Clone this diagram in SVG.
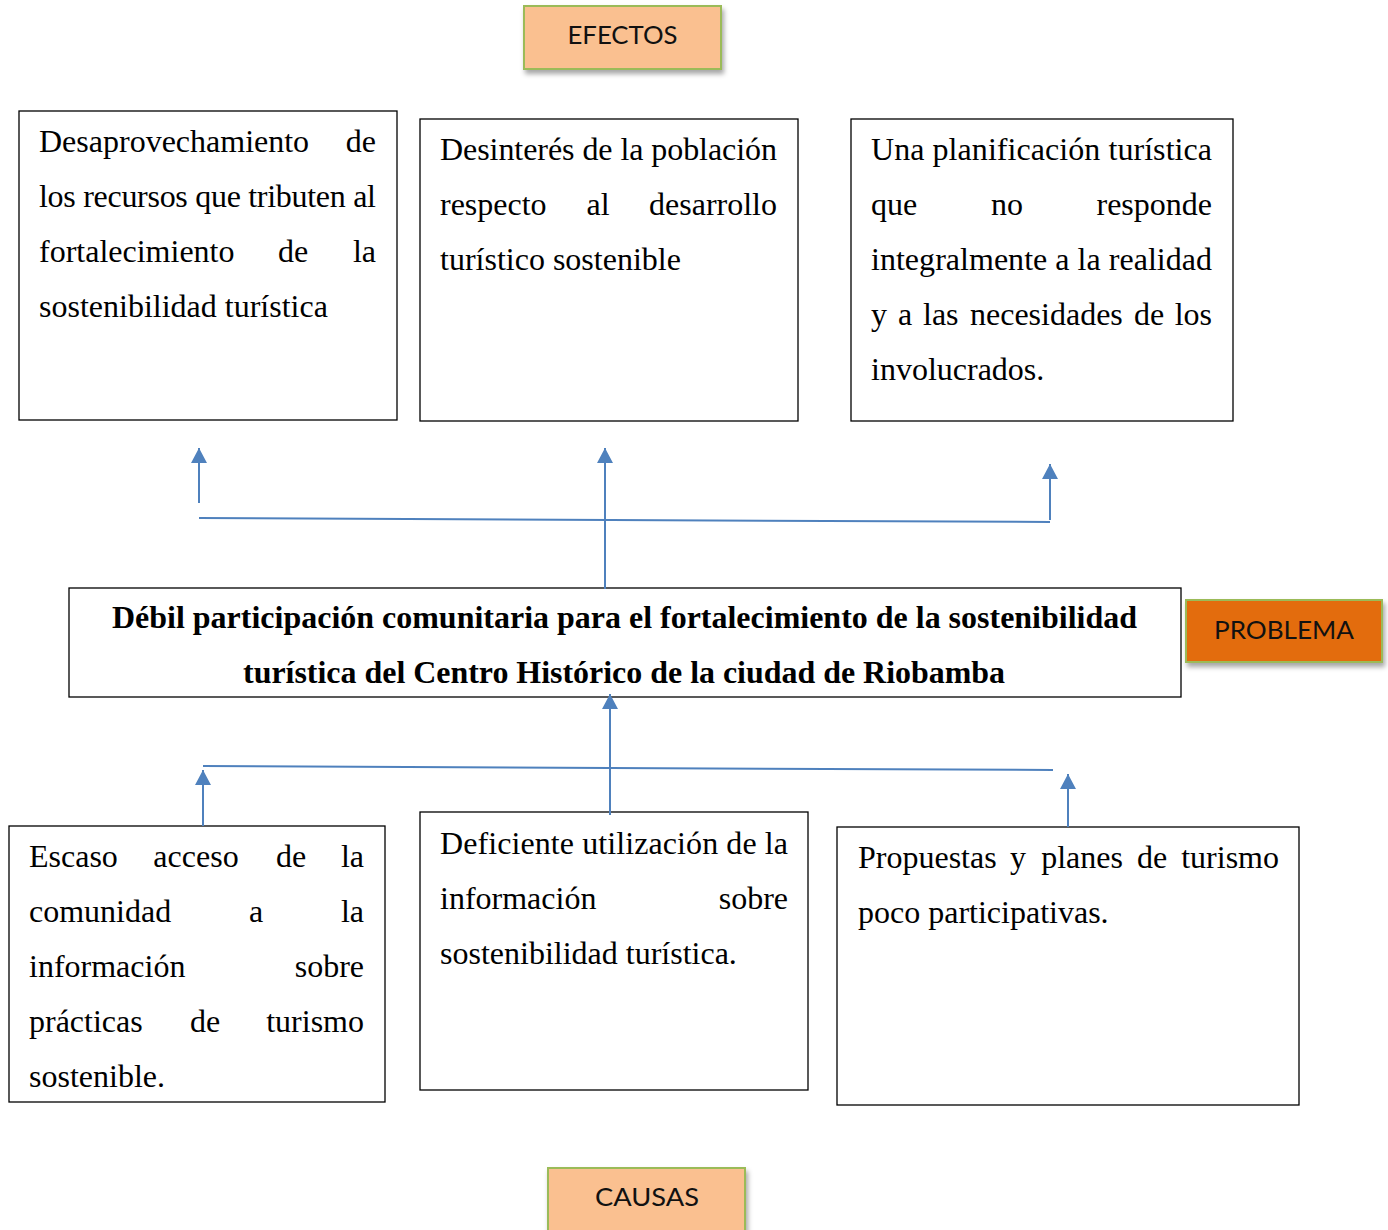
<svg xmlns="http://www.w3.org/2000/svg" width="1388" height="1230" viewBox="0 0 1388 1230">
<style>
.box{fill:#ffffff;stroke:#000000;stroke-width:1.3}
.t{font-family:"Liberation Serif","Times New Roman",serif;font-size:32px;fill:#000}
.e{text-anchor:end}
.m{text-anchor:middle}
.title{font-family:"Liberation Serif","Times New Roman",serif;font-size:32px;font-weight:bold;fill:#000;text-anchor:middle}
.lab{stroke:#9BBB59;stroke-width:2;filter:url(#sh)}
.peach{fill:#FAC090}
.orange{fill:#E36C0A}
.lt{font-family:"Lato","Open Sans",sans-serif;font-size:25px;fill:#111;text-anchor:middle}
.c{stroke:#4F81BD;stroke-width:2;fill:none}
.ca{stroke:#4F81BD;stroke-width:2;fill:none;marker-end:url(#ah)}
</style>
<defs>
<filter id="sh" x="-10%" y="-20%" width="130%" height="160%">
<feDropShadow dx="2" dy="4" stdDeviation="2.5" flood-color="#000" flood-opacity="0.35"/>
</filter>
<marker id="ah" viewBox="0 0 16 16" refX="15" refY="8" markerWidth="16" markerHeight="16" markerUnits="userSpaceOnUse" orient="auto">
<path d="M0,0 L15,8 L0,16 Z" fill="#4F81BD"/>
</marker>
</defs>
<rect width="1388" height="1230" fill="#ffffff"/>

<g id="efectos">
<rect class="lab peach" x="524" y="6" width="197" height="63"/>
<text class="lt" x="622.5" y="44" textLength="110" lengthAdjust="spacingAndGlyphs">EFECTOS</text>
</g>

<g id="efecto1">
<rect class="box" x="19" y="111" width="378" height="309"/>
<text class="t" x="39" y="152">Desaprovechamiento</text>
<text class="t e" x="376" y="152">de</text>
<text class="t" x="39" y="207" textLength="337" lengthAdjust="spacing">los recursos que tributen al</text>
<text class="t" x="39" y="262">fortalecimiento</text>
<text class="t m" x="293" y="262">de</text>
<text class="t e" x="376" y="262">la</text>
<text class="t" x="39" y="317">sostenibilidad turística</text>
</g>

<g id="efecto2">
<rect class="box" x="420" y="119" width="378" height="302"/>
<text class="t" x="440" y="160" textLength="337" lengthAdjust="spacing">Desinterés de la población</text>
<text class="t" x="440" y="215">respecto</text>
<text class="t m" x="598" y="215">al</text>
<text class="t e" x="777" y="215">desarrollo</text>
<text class="t" x="440" y="270">turístico sostenible</text>
</g>

<g id="efecto3">
<rect class="box" x="851" y="119" width="382" height="302"/>
<text class="t" x="871" y="160" textLength="341" lengthAdjust="spacing">Una planificación turística</text>
<text class="t" x="871" y="215">que</text>
<text class="t m" x="1007" y="215">no</text>
<text class="t e" x="1212" y="215">responde</text>
<text class="t" x="871" y="270" textLength="341" lengthAdjust="spacing">integralmente a la realidad</text>
<text class="t" x="871" y="325">y</text>
<text class="t" x="898" y="325">a</text>
<text class="t" x="923" y="325">las</text>
<text class="t" x="970" y="325">necesidades</text>
<text class="t" x="1134" y="325">de</text>
<text class="t e" x="1212" y="325">los</text>
<text class="t" x="871" y="380">involucrados.</text>
</g>

<g id="problema">
<rect class="box" x="69" y="588" width="1112" height="109"/>
<text class="title" x="624.5" y="628" textLength="1025" lengthAdjust="spacingAndGlyphs">Débil participación comunitaria para el fortalecimiento de la sostenibilidad</text>
<text class="title" x="624" y="683" textLength="762" lengthAdjust="spacingAndGlyphs">turística del Centro Histórico de la ciudad de Riobamba</text>
</g>

<g id="problema-label">
<rect class="lab orange" x="1186" y="600" width="196" height="62"/>
<text class="lt" x="1284" y="639" textLength="140" lengthAdjust="spacingAndGlyphs">PROBLEMA</text>
</g>

<g id="causa1">
<rect class="box" x="9" y="826" width="376" height="276"/>
<text class="t" x="29" y="867">Escaso</text>
<text class="t m" x="196" y="867">acceso</text>
<text class="t m" x="291" y="867">de</text>
<text class="t e" x="364" y="867">la</text>
<text class="t" x="29" y="922">comunidad</text>
<text class="t m" x="256" y="922">a</text>
<text class="t e" x="364" y="922">la</text>
<text class="t" x="29" y="977">información</text>
<text class="t e" x="364" y="977">sobre</text>
<text class="t" x="29" y="1032">prácticas</text>
<text class="t m" x="205" y="1032">de</text>
<text class="t e" x="364" y="1032">turismo</text>
<text class="t" x="29" y="1087">sostenible.</text>
</g>

<g id="causa2">
<rect class="box" x="420" y="812" width="388" height="278"/>
<text class="t" x="440" y="854" textLength="348" lengthAdjust="spacing">Deficiente utilización de la</text>
<text class="t" x="440" y="909">información</text>
<text class="t e" x="788" y="909">sobre</text>
<text class="t" x="440" y="964">sostenibilidad turística.</text>
</g>

<g id="causa3">
<rect class="box" x="837" y="827" width="462" height="278"/>
<text class="t" x="858" y="868">Propuestas</text>
<text class="t m" x="1018" y="868">y</text>
<text class="t m" x="1082" y="868">planes</text>
<text class="t m" x="1152" y="868">de</text>
<text class="t e" x="1279" y="868">turismo</text>
<text class="t" x="858" y="923">poco participativas.</text>
</g>

<g id="causas">
<rect class="lab peach" x="548" y="1168" width="197" height="70"/>
<text class="lt" x="647" y="1206" textLength="104" lengthAdjust="spacingAndGlyphs">CAUSAS</text>
</g>

<g id="connectors">
<line class="ca" x1="199" y1="503" x2="199" y2="448"/>
<line class="c" x1="199" y1="518" x2="1050" y2="522"/>
<line class="ca" x1="605" y1="589" x2="605" y2="448"/>
<line class="ca" x1="1050" y1="520" x2="1050" y2="464"/>
<line class="ca" x1="610" y1="815" x2="610" y2="694"/>
<line class="c" x1="203" y1="766" x2="1053" y2="770"/>
<line class="ca" x1="203" y1="826" x2="203" y2="770"/>
<line class="ca" x1="1068" y1="827" x2="1068" y2="774"/>
</g>
</svg>
